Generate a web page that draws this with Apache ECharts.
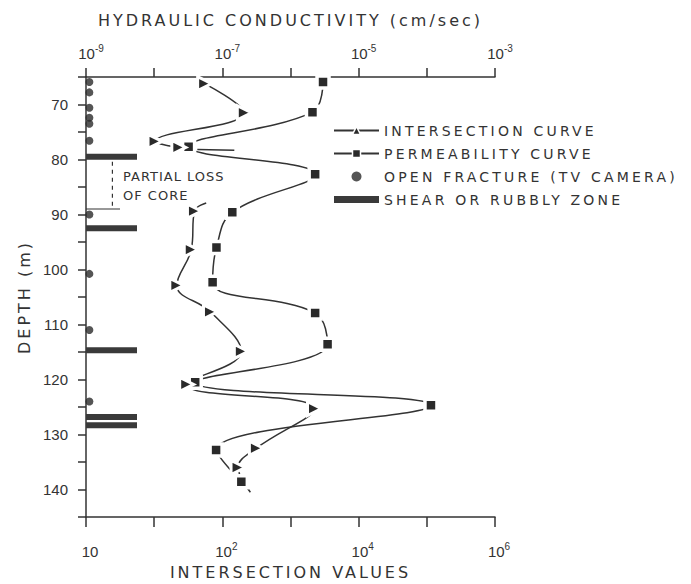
<!DOCTYPE html>
<html><head><meta charset="utf-8">
<script src="https://cdn.jsdelivr.net/npm/echarts@6/dist/echarts.min.js"></script>
<style>
html,body{margin:0;padding:0;background:#fff;}
#c{width:691px;height:584px;}
#c text[style*="16px"]{letter-spacing:3px;}
#c text[style*="14px"]{letter-spacing:3.2px;}
#c text[style*="13px"]{letter-spacing:1px;}
</style></head>
<body><div id="c"></div>
<script>
// ---- data ----
const permDepth = [65.9, 71.4, 77.7, 82.7, 89.6, 96.0, 102.3, 107.9, 113.6, 120.5, 124.7, 132.8, 138.6];
const permConductivity = [3.0e-6, 2.1e-6, 3.2e-8, 2.3e-6, 1.4e-7, 8.2e-8, 7.2e-8, 2.3e-6, 3.5e-6, 4.0e-8, 1.15e-4, 8.1e-8, 1.9e-7];
const permStubDepth = [78.2, 78.3];
const permStubConductivity = [4.3e-8, 1.5e-7];

const intDepth = [66.2, 71.5, 76.7, 77.8, null, 87.9, 89.4, 96.4, 102.9, 107.7, 114.9, 120.9, 125.3, 132.5, 136.0, 140.5];
const intValue = [55, 210, 10.3, 23, null, 58, 39, 35, 21.5, 67, 190, 30, 2250, 316, 170, 258];
const intMeasured = [1, 1, 1, 1, 0, 0, 1, 1, 1, 1, 1, 1, 1, 1, 1, 0];

const fractureDepth = [65.9, 67.8, 70.6, 72.4, 73.5, 76.6, 90.0, 100.8, 111.0, 124.0];
const fractureX = 1.12;

const shearDepth = [79.5, 92.5, 114.7, 126.8, 128.3];
const shearFrom = 1;
const shearTo = 5.6;

const coreLossX = [2.44, 2.44];
const coreLossDepth = [80.4, 89.0];
const coreLossBaseX = [1, 3.16];
const coreLossBaseDepth = [89.0, 89.0];

// tick labels: [base, superscript]
const topTicks = [['10', '-9'], ['10', '-7'], ['10', '-5'], ['10', '-3']];
const bottomTicks = [['10', ''], ['10', '2'], ['10', '4'], ['10', '6']];
const depthTicks = [70, 80, 90, 100, 110, 120, 130, 140];

// ---- chart ----
const INK = '#333';
const labelRich = {
  b: {fontSize: 15, fontFamily: 'Liberation Sans', color: INK, lineHeight: 20},
  s: {fontSize: 10, fontFamily: 'Liberation Sans', color: INK, padding: [0, 0, 10, 0]}
};
function richLabel(t) {
  return '{b|' + t[0] + '}' + (t[1] ? '{s|' + t[1] + '}' : '');
}

const chart = echarts.init(document.getElementById('c'), null, {renderer: 'svg'});

const intData = intDepth.map((d, i) => {
  if (d === null) return ['-', '-'];
  return {value: [intValue[i], d], symbol: intMeasured[i] ? 'triangle' : 'none'};
});

chart.setOption({
  animation: false,
  backgroundColor: '#fff',
  grid: {left: 86, right: 196, top: 77, bottom: 67, containLabel: false, outerBoundsMode: 'none'},
  xAxis: [
    {
      type: 'log', logBase: 10, min: 1, max: 1e6, interval: 1, position: 'bottom',
      name: 'INTERSECTION VALUES', nameLocation: 'middle', nameGap: 47,
      nameTextStyle: {fontSize: 16, fontFamily: 'DejaVu Sans', color: INK},
      axisLine: {lineStyle: {color: INK, width: 1.5}},
      axisTick: {inside: false, length: 10, lineStyle: {color: INK, width: 1.5}},
      splitLine: {show: false},
      axisLabel: {
        margin: 24, padding: [0, 0, 0, 8], rich: labelRich,
        formatter: v => {
          const e = Math.round(Math.log10(v));
          return e % 2 === 0 ? richLabel(bottomTicks[e / 2]) : '';
        }
      }
    },
    {
      type: 'log', logBase: 10, min: 1e-9, max: 1e-3, interval: 1, position: 'top',
      name: 'HYDRAULIC CONDUCTIVITY (cm/sec)', nameLocation: 'middle', nameGap: 49,
      nameTextStyle: {fontSize: 16, fontFamily: 'DejaVu Sans', color: INK},
      axisLine: {lineStyle: {color: INK, width: 1.5}},
      axisTick: {inside: false, length: 9, lineStyle: {color: INK, width: 1.5}},
      splitLine: {show: false},
      axisLabel: {
        margin: 14, padding: [0, 0, 0, 10], rich: labelRich,
        formatter: v => {
          const e = Math.round(Math.log10(v));
          return (e + 9) % 2 === 0 ? richLabel(topTicks[(e + 9) / 2]) : '';
        }
      }
    }
  ],
  yAxis: {
    type: 'value', inverse: true, min: 65, max: 145, interval: 5,
    name: 'DEPTH (m)', nameLocation: 'middle', nameGap: 50, nameRotate: 90,
    nameTextStyle: {fontSize: 16, fontFamily: 'DejaVu Sans', color: INK},
    axisLine: {show: true, lineStyle: {color: INK, width: 1.5}},
    axisTick: {show: true, inside: false, length: 8, lineStyle: {color: INK, width: 1.5}},
    splitLine: {show: false},
    axisLabel: {
      margin: 18, fontSize: 15, fontFamily: 'Liberation Sans', color: INK,
      formatter: v => depthTicks.indexOf(v) >= 0 ? String(v) : ''
    }
  },
  legend: {
    left: 333, top: 122, padding: 0, orient: 'vertical', itemWidth: 45, itemHeight: 10, itemGap: 6,
    symbolRotate: 0,
    textStyle: {fontSize: 14, fontFamily: 'DejaVu Sans', color: INK, lineHeight: 17},
    itemStyle: {borderWidth: 1.5},
    data: [
      {name: 'INTERSECTION CURVE'},
      {name: 'PERMEABILITY CURVE'},
      {name: 'OPEN FRACTURE (TV CAMERA)', icon: 'circle'},
      {name: 'SHEAR OR RUBBLY ZONE', icon: 'path://M0,0h45v7h-45z'}
    ]
  },
  graphic: [
    {type: 'text', left: 123, top: 166.5,
     style: {text: 'PARTIAL LOSS\nOF CORE', fontSize: 13, fontFamily: 'DejaVu Sans', fill: INK, lineHeight: 19}}
  ],
  series: [
    {
      name: 'SHEAR OR RUBBLY ZONE', type: 'custom', xAxisIndex: 0,
      itemStyle: {color: '#3a3a3a'},
      encode: {x: [0, 1], y: 2},
      data: shearDepth.map(d => [shearFrom, shearTo, d]),
      renderItem: (params, api) => {
        const p0 = api.coord([api.value(0), api.value(2)]);
        const p1 = api.coord([api.value(1), api.value(2)]);
        return {type: 'rect', shape: {x: p0[0], y: p0[1] - 3, width: p1[0] - p0[0], height: 6},
                style: {fill: '#3a3a3a'}};
      }
    },
    {
      name: 'OPEN FRACTURE (TV CAMERA)', type: 'scatter', xAxisIndex: 0,
      symbol: 'circle', symbolSize: 8, itemStyle: {color: '#2a2a2a'},
      data: fractureDepth.map(d => [fractureX, d])
    },
    {
      name: 'coreLoss', type: 'line', xAxisIndex: 0, symbol: 'none', silent: true,
      lineStyle: {color: INK, width: 1.2, type: [4, 4]},
      data: coreLossX.map((x, i) => [x, coreLossDepth[i]])
    },
    {
      name: 'coreLossBase', type: 'line', xAxisIndex: 0, symbol: 'none', silent: true,
      lineStyle: {color: INK, width: 1.2},
      data: coreLossBaseX.map((x, i) => [x, coreLossBaseDepth[i]])
    },
    {
      name: 'permStub', type: 'line', xAxisIndex: 1, symbol: 'none', silent: true,
      lineStyle: {color: INK, width: 1.5},
      data: permStubConductivity.map((x, i) => [x, permStubDepth[i]])
    },
    {
      name: 'PERMEABILITY CURVE', type: 'line', xAxisIndex: 1, smooth: 0.4,
      symbol: 'rect', symbolSize: 12, showAllSymbol: true,
      itemStyle: {color: '#2a2a2a', borderColor: '#fff', borderWidth: 3.5},
      lineStyle: {color: INK, width: 1.5},
      data: permConductivity.map((x, i) => [x, permDepth[i]])
    },
    {
      name: 'INTERSECTION CURVE', type: 'line', xAxisIndex: 0, smooth: 0.4,
      symbol: 'triangle', symbolRotate: -90, symbolSize: 14, showAllSymbol: true,
      connectNulls: false,
      itemStyle: {color: '#2a2a2a', borderColor: '#fff', borderWidth: 3},
      lineStyle: {color: INK, width: 1.5},
      data: intData
    }
  ]
});
</script>
</body></html>
